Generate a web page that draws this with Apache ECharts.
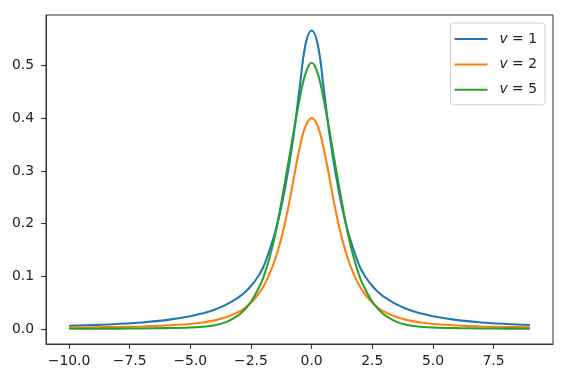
<!DOCTYPE html>
<html>
<head>
<meta charset="utf-8">
<script src="https://cdn.jsdelivr.net/npm/echarts@6/dist/echarts.min.js"></script>
<style>html,body{margin:0;padding:0;background:#fff;}#c{width:567px;height:381px;}</style>
</head>
<body>
<div id="c"></div>
<script>
// x positions of the sampled points
var xs = [-10, -9, -8, -7, -6, -5, -4.5, -4, -3.5, -3, -2.75, -2.5, -2.25, -2, -1.75, -1.5, -1.25, -1, -0.75, -0.5, -0.25, 0,
          0.25, 0.5, 0.75, 1, 1.25, 1.5, 1.75, 2, 2.25, 2.5, 2.75, 3, 3.5, 4, 4.5, 5, 6, 7, 8, 9];
// v = 1
var v1 = [0.0067, 0.0081, 0.0100, 0.0128, 0.0172, 0.0245, 0.030, 0.037, 0.047, 0.061, 0.070, 0.082, 0.097, 0.117, 0.148, 0.184, 0.232, 0.292, 0.365, 0.455, 0.540, 0.566,
          0.540, 0.455, 0.365, 0.292, 0.232, 0.184, 0.148, 0.117, 0.097, 0.082, 0.070, 0.061, 0.047, 0.037, 0.030, 0.0245, 0.0172, 0.0128, 0.0100, 0.0081];
// v = 2
var v2 = [0.0031, 0.0036, 0.0043, 0.0053, 0.0070, 0.0100, 0.0127, 0.0168, 0.023, 0.033, 0.040, 0.050, 0.063, 0.080, 0.103, 0.133, 0.172, 0.222, 0.283, 0.342, 0.385, 0.400,
          0.385, 0.342, 0.283, 0.222, 0.172, 0.133, 0.103, 0.080, 0.063, 0.050, 0.040, 0.033, 0.023, 0.0168, 0.0127, 0.0100, 0.0070, 0.0053, 0.0043, 0.0036];
// v = 5
var v5 = [0.0009, 0.0010, 0.0012, 0.0015, 0.0021, 0.0033, 0.0048, 0.0075, 0.014, 0.027, 0.038, 0.052, 0.072, 0.097, 0.133, 0.180, 0.240, 0.305, 0.372, 0.435, 0.485, 0.505,
          0.485, 0.435, 0.372, 0.305, 0.240, 0.180, 0.133, 0.097, 0.072, 0.052, 0.038, 0.027, 0.014, 0.0075, 0.0048, 0.0033, 0.0021, 0.0015, 0.0012, 0.0010];
var seriesNames = ['v = 1', 'v = 2', 'v = 5'];
var xTicks = [-10, -7.5, -5, -2.5, 0, 2.5, 5, 7.5];
var yTicks = [0, 0.1, 0.2, 0.3, 0.4, 0.5];

var colors = ['#1f77b4', '#ff7f0e', '#2ca02c'];
var font = 'DejaVu Sans';
var fs = 13.9;
function pairs(ys) { return xs.map(function (x, i) { return [x, ys[i]]; }); }
function fmt(v) { return v.toFixed(1).replace('-', '\u2212'); }

var chart = echarts.init(document.getElementById('c'), null, {renderer: 'canvas'});
var allY = [v1, v2, v5];
chart.setOption({
  animation: false,
  color: colors,
  grid: {left: 46, right: 14, top: 15, bottom: 37, show: true, borderColor: '#333', borderWidth: 1, backgroundColor: 'transparent'},
  xAxis: {
    type: 'value', min: -10.95, max: 9.95,
    splitLine: {show: false},
    axisLine: {show: true, onZero: false, lineStyle: {color: '#333', width: 1}},
    axisTick: {show: true, inside: false, length: 4.9, lineStyle: {color: '#333', width: 1.1}, customValues: xTicks},
    axisLabel: {customValues: xTicks, formatter: fmt, margin: 10, color: '#222', fontFamily: font, fontSize: fs}
  },
  yAxis: {
    type: 'value', min: -0.028, max: 0.5955,
    splitLine: {show: false},
    axisLine: {show: true, onZero: false, lineStyle: {color: '#333', width: 1}},
    axisTick: {show: true, inside: false, length: 4.9, lineStyle: {color: '#333', width: 1.1}, customValues: yTicks},
    axisLabel: {customValues: yTicks, formatter: function (v) { return v.toFixed(1); }, margin: 12, color: '#222', fontFamily: font, fontSize: fs}
  },
  legend: {
    orient: 'vertical', right: 22, top: 23,
    padding: [7.5, 8, 6.5, 4],
    itemWidth: 33, itemHeight: 2, itemGap: 8.4,
    icon: 'rect',
    borderColor: '#d0d0d0', borderWidth: 1, borderRadius: 3,
    backgroundColor: 'rgba(255,255,255,0.8)',
    selectedMode: false,
    formatter: function (name) { return '{s|}{i|v} = ' + name.split('=')[1].trim(); },
    textStyle: {
      fontFamily: font, fontSize: fs, color: '#222', lineHeight: 17,
      rich: {
        s: {width: 7},
        i: {fontStyle: 'italic', fontFamily: font, fontSize: fs, color: '#222'}
      }
    },
    data: seriesNames
  },
  series: seriesNames.map(function (n, k) {
    return {
      name: n, type: 'line', data: pairs(allY[k]),
      showSymbol: false, smooth: 0.4,
      lineStyle: {width: 2.08, color: colors[k]},
      itemStyle: {color: colors[k]}
    };
  })
});
</script>
</body>
</html>
